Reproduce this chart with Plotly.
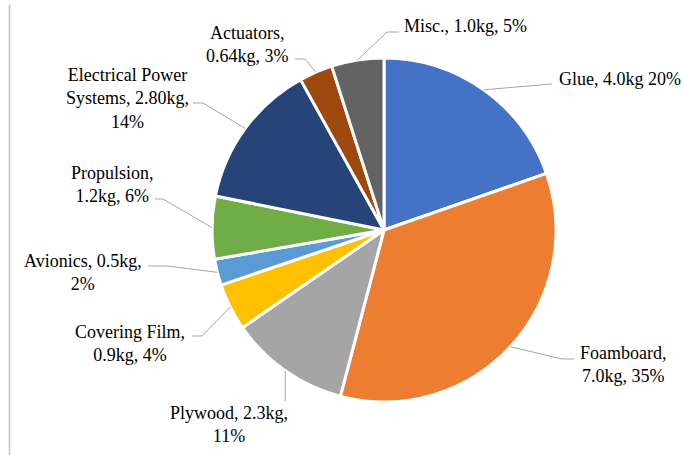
import math
import plotly.graph_objects as go

# Mass budget of the airframe, in kilograms
components = ["Glue", "Foamboard", "Plywood", "Covering Film", "Avionics",
              "Propulsion", "Electrical Power Systems", "Actuators", "Misc."]
masses = [4.0, 7.0, 2.3, 0.9, 0.5, 1.2, 2.80, 0.64, 1.0]
label_texts = [
    "Glue, 4.0kg 20%",
    "Foamboard,<br>7.0kg, 35%",
    "Plywood, 2.3kg,<br>11%",
    "Covering Film,<br>0.9kg, 4%",
    "Avionics, 0.5kg,<br>2%",
    "Propulsion,<br>1.2kg, 6%",
    "Electrical Power<br>Systems, 2.80kg,<br>14%",
    "Actuators,<br>0.64kg, 3%",
    "Misc., 1.0kg, 5%",
]
colors = ["#4472C4", "#ED7D31", "#A5A5A5", "#FFC000", "#5B9BD5",
          "#70AD47", "#264478", "#9E480E", "#636363"]

W, H = 684, 455
CX, CY, R = 384, 230, 172  # pie centre and radius in pixels
FONT = "'Liberation Serif', 'DejaVu Serif', serif"

# Label block centres (px) and leader-line elbow / end points (px)
label_pos = [(620, 79), (623, 364), (229, 424), (130, 343), (83, 272),
             (112, 184), (127, 98), (247, 45), (465, 26)]
leader_route = [
    [(552, 84)],
    [(562, 359), (574, 359)],
    [None],
    [(202, 336), (192, 336)],
    [(167, 266), (148, 266)],
    [(163, 199), (155, 199)],
    [(203, 103), (193, 103)],
    [(305, 59), (295, 59)],
    [(387, 32), (399, 32)],
]


def px(x):
    return x / W


def py(y):
    return 1 - y / H


fig = go.Figure(go.Pie(
    labels=components,
    values=masses,
    sort=False,
    direction="clockwise",
    rotation=0,
    marker=dict(colors=colors, line=dict(color="white", width=3)),
    textinfo="none",
    hoverinfo="label+value+percent",
    showlegend=False,
    domain=dict(x=[px(CX - R), px(CX + R)], y=[py(CY + R), py(CY - R)]),
))

shapes = []
total = sum(masses)
cum = 0.0
for i, m in enumerate(masses):
    mid = (cum + m / 2) / total * 2 * math.pi
    cum += m
    sx = CX + R * math.sin(mid)
    sy = CY - R * math.cos(mid)
    pts = [(sx, sy)]
    for p in leader_route[i]:
        pts.append(p if p is not None else (sx, 401))
    path = "M " + " L ".join(f"{px(x):.5f},{py(y):.5f}" for x, y in pts)
    shapes.append(dict(type="path", xref="paper", yref="paper", path=path,
                       line=dict(color="#A6A6A6", width=1)))

# thin frame edge on the left
shapes.append(dict(type="line", xref="paper", yref="paper",
                   x0=px(9.5), x1=px(9.5), y0=py(5), y1=py(H + 2),
                   line=dict(color="#BFBFBF", width=1.5)))

annotations = []
for txt, (lx, ly) in zip(label_texts, label_pos):
    annotations.append(dict(
        x=px(lx), y=py(ly), xref="paper", yref="paper",
        text=txt, showarrow=False, align="center",
        xanchor="center", yanchor="middle",
        font=dict(family=FONT, size=18, color="#000000"),
    ))

fig.update_layout(
    width=W, height=H,
    margin=dict(l=0, r=0, t=0, b=0),
    paper_bgcolor="white",
    plot_bgcolor="white",
    font=dict(family=FONT),
    shapes=shapes,
    annotations=annotations,
)

fig.write_html("out.html")
